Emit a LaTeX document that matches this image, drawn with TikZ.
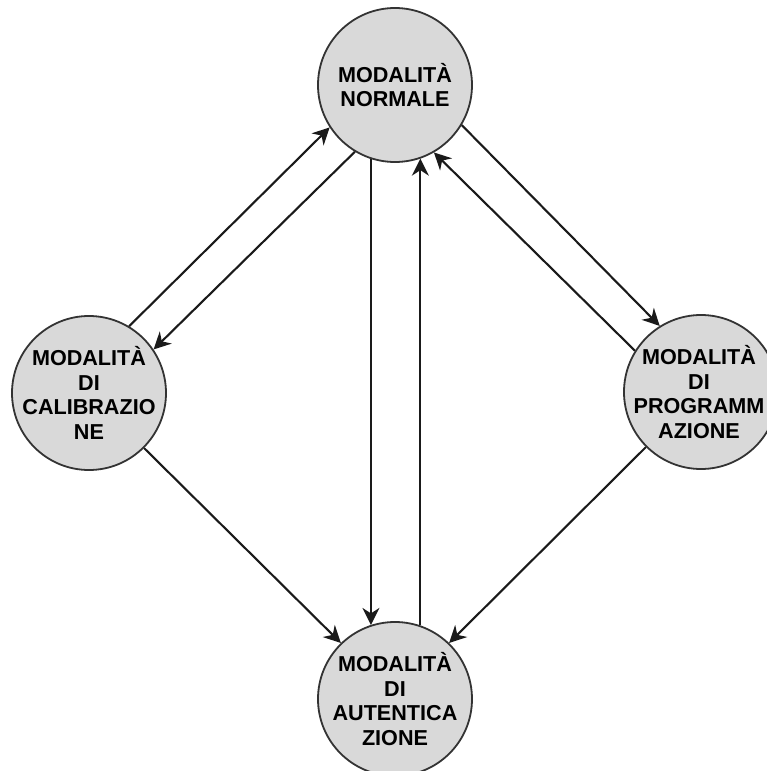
\documentclass[tikz,border=0pt]{standalone}
\usepackage{fontspec}
\setmainfont{Liberation Sans}
\usetikzlibrary{arrows.meta}
\definecolor{statefill}{HTML}{D9D9D9}
\definecolor{statedraw}{HTML}{333333}
\definecolor{edgecol}{HTML}{1A1A1A}
\begin{document}
\begin{tikzpicture}[x=1pt,y=-1pt,
  state/.style={circle,draw=statedraw,line width=1.8pt,fill=statefill,
    minimum size=154pt,inner sep=0pt},
  statelabel/.style={align=center,inner sep=0pt,
    font=\fontsize{21.6}{24.6}\selectfont\bfseries},
  edge/.style={draw=edgecol,line width=2.1pt,
    -{Stealth[length=17pt,width=17pt,inset=5.5pt]}}]
\useasboundingbox (0,0) rectangle (767,771);

% states
\node[state] (norm) at (395,85) {};
\node[state] (cal) at (89,393) {};
\node[state] (prog) at (701,392) {};
\node[state] (aut) at (395,699) {};

\node[statelabel] (normtxt) at (norm.center) {MODALITÀ\\NORMALE};
\node[statelabel] (caltxt) at (cal.center) {MODALITÀ\\DI\\CALIBRAZIO\\NE};
\node[statelabel] (progtxt) at ([xshift=-2pt]prog.center) {MODALITÀ\\DI\\PROGRAMM\\AZIONE};
\node[statelabel] (auttxt) at (aut.center) {MODALITÀ\\DI\\AUTENTICA\\ZIONE};

% transitions
\draw[edge] (cal.59.5) -- (norm.-147);
\draw[edge] (norm.-121) -- (cal.34);
\draw[edge] (norm.-108.2) -- (aut.108.2);
\draw[edge] (aut.71.8) -- (norm.-71.8);
\draw[edge] (norm.-31.5) -- (prog.122);
\draw[edge] (prog.148) -- (norm.-60.3);
\draw[edge] (cal.-45.5) -- (aut.134);
\draw[edge] (prog.-135) -- (aut.46);
\end{tikzpicture}
\end{document}
